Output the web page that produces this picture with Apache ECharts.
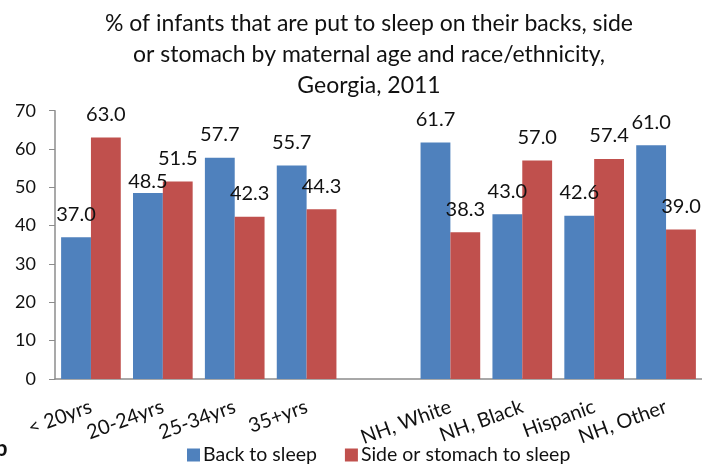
<!DOCTYPE html>
<html>
<head>
<meta charset="utf-8">
<script src="https://cdn.jsdelivr.net/npm/echarts@6/dist/echarts.min.js"></script>
<style>
  html, body { margin: 0; padding: 0; background: #fff; }
  #chart { width: 702px; height: 466px; }
</style>
</head>
<body>
<div id="chart"></div>
<script>
// Infant sleep position by maternal age and race/ethnicity, Georgia 2011
const categories = ['< 20yrs', '20-24yrs', '25-34yrs', '35+yrs', '', 'NH, White', 'NH, Black', 'Hispanic', 'NH, Other'];
const backToSleep = [37.0, 48.5, 57.7, 55.7, null, 61.7, 43.0, 42.6, 61.0];
const sideOrStomach = [63.0, 51.5, 42.3, 44.3, null, 38.3, 57.0, 57.4, 39.0];
const yTicks = [0, 10, 20, 30, 40, 50, 60, 70];

const FONT = 'Lato, "Open Sans", sans-serif';
const TEXT = '#111';

function toPoints(values, nudged) {
  return values.map((v, i) => {
    if (v === null) return null;
    const p = { value: v };
    if (nudged && nudged[i]) p.label = { offset: nudged[i] };
    return p;
  });
}

const chart = echarts.init(document.getElementById('chart'), null, { renderer: 'canvas' });

const labelStyle = {
  show: true,
  position: 'top',
  distance: 13,
  color: TEXT,
  fontFamily: FONT,
  fontSize: 20,
  formatter: p => p.value.toFixed(1)
};

chart.setOption({
  animation: false,
  backgroundColor: '#fff',
  title: {
    text: '% of infants that are put to sleep on their backs, side\nor stomach by maternal age and race/ethnicity,\nGeorgia, 2011',
    left: 364,
    textAlign: 'center',
    top: 3,
    textStyle: {
      fontFamily: FONT,
      fontWeight: 'normal',
      fontSize: 23,
      lineHeight: 31,
      color: TEXT
    }
  },
  legend: {
    left: 182,
    top: 440,
    itemWidth: 13,
    itemHeight: 13,
    itemGap: 28,
    icon: 'rect',
    textStyle: { fontFamily: FONT, fontSize: 19.5, color: TEXT, padding: [0, 0, 0, -2] },
    data: ['Back to sleep', 'Side or stomach to sleep']
  },
  grid: {
    left: 55,
    top: 110.7,
    width: 651,
    bottom: 87,
    containLabel: false
  },
  xAxis: {
    type: 'category',
    data: categories,
    axisLine: { lineStyle: { color: '#8c8c8c', width: 1.5 } },
    axisTick: { show: false },
    axisLabel: {
      rotate: 20,
      margin: 27,
      interval: 0,
      color: TEXT,
      fontFamily: FONT,
      fontSize: 20
    }
  },
  yAxis: {
    type: 'value',
    min: yTicks[0],
    max: yTicks[yTicks.length - 1],
    interval: 10,
    splitLine: { show: false },
    axisLine: { show: true, lineStyle: { color: '#8c8c8c', width: 1.5 } },
    axisTick: { show: true, length: 6, lineStyle: { color: '#8c8c8c' } },
    axisLabel: {
      margin: 19,
      color: TEXT,
      fontFamily: FONT,
      fontSize: 18
    }
  },
  series: [
    {
      name: 'Back to sleep',
      type: 'bar',
      data: toPoints(backToSleep, { 1: [0, 11] }),
      barGap: '0%',
      barCategoryGap: '17%',
      itemStyle: { color: '#4F81BD' },
      label: labelStyle
    },
    {
      name: 'Side or stomach to sleep',
      type: 'bar',
      data: toPoints(sideOrStomach),
      itemStyle: { color: '#C0504D' },
      label: labelStyle
    }
  ],
  graphic: [
    {
      type: 'text',
      left: -5,
      top: 438,
      style: { text: 'b', font: 'bold 22px ' + FONT, fill: TEXT }
    }
  ]
});
</script>
</body>
</html>
